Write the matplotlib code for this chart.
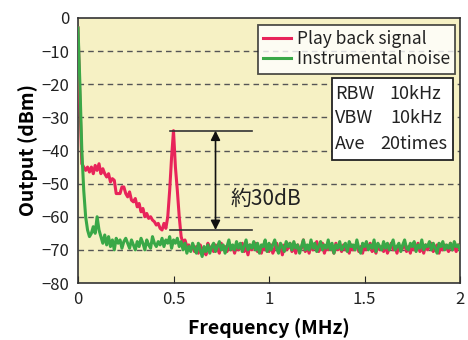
import numpy as np
import matplotlib
matplotlib.use("Agg")
import matplotlib.pyplot as plt
from matplotlib.patches import Rectangle

plt.rcParams['font.family'] = ['Noto Sans CJK JP', 'DejaVu Sans']

# ---- data ----
sig_head = [-3, -25, -44, -45, -46, -45, -46.5, -45, -47, -44.5,
            -46, -44, -47, -45.5, -47, -48, -47, -49.5, -48.5, -49,
            -53, -53, -53, -51, -51, -53, -54, -52.5, -55, -55.5,
            -54.5, -57, -56, -58.5, -57.5, -60, -59, -60.5, -60, -61,
            -61.5, -62.5, -62, -63.5, -64, -62, -63.5, -60, -52, -42,
            -34, -45, -52, -60, -66, -68, -67, -69, -68.5, -70, -69]
sig_tail = [-70.5, -69, -71, -68.5, -70, -69.5, -71.5, -68, -70, -69,
            -70.5, -68.5, -69.5, -71, -68, -70, -69, -70.5, -68.5, -70,
            -69, -71, -68.5, -70, -69.5, -68, -70.5, -69, -71.5, -68.5,
            -70, -69, -68, -70.5, -69.5, -71, -68.5, -70, -69, -70.5,
            -68.5, -71, -69.5, -68, -70, -69, -71.5, -68.5, -70, -69.5,
            -68, -70.5, -69, -71, -68.5, -70, -69.5, -67, -70.5, -69,
            -71, -68.5, -70, -69, -67.5, -70.5, -69.5, -68, -71, -69,
            -70, -68.5, -69.5, -71, -68, -70, -69, -70.5, -68.5, -70,
            -69, -71, -68.5, -70, -69.5, -68, -70.5, -69, -71, -68.5,
            -70, -69, -68, -70.5, -69.5, -71, -68.5, -70, -69, -70.5,
            -68.5, -71, -69.5, -68, -70, -69, -71, -68.5, -70, -69.5,
            -68, -70.5, -69, -71, -68.5, -70, -69.5, -68, -70.5, -69,
            -71, -68.5, -70, -69, -68, -70.5, -69.5, -68.5, -71, -69,
            -70, -68.5, -69.5, -70.5, -68, -70, -69, -70.5, -68.5, -69.5]
signal = sig_head + sig_tail

noise = [-3, -20, -40, -52, -60, -64, -66, -65, -63, -65,
         -60, -64, -66, -68, -65.5, -68.5, -66, -69, -67, -70,
         -66.5, -68, -67, -69.5, -67.5, -66.5, -68, -69.5, -67, -68.5,
         -70, -67.5, -69, -66.5, -68, -70, -67, -68.5, -69.5, -66,
         -68, -69, -67.5, -68.5, -66.5, -69, -67, -68, -66, -69.5,
         -67, -68, -66.5, -69, -67.5, -70, -68, -71, -69, -70.5,
         -68, -69.5, -71, -68, -70, -72, -69, -70.5, -68.5, -71,
         -69, -68, -70.5, -69, -67.5, -70, -68.5, -71, -69, -67,
         -70, -68.5, -70, -67.5, -69.5, -68, -70.5, -69, -67, -70,
         -68.5, -69.5, -67.5, -70, -68, -71, -68.5, -69, -67, -70.5,
         -68, -70, -68.5, -67, -69.5, -71, -68, -69, -70.5, -67.5,
         -69, -68, -70, -67.5, -69.5, -68.5, -71, -69, -67, -70,
         -68.5, -70, -67, -69.5, -68, -70.5, -69, -67.5, -70, -68.5,
         -69.5, -67, -70, -68, -71, -68.5, -69.5, -67.5, -70, -69,
         -68, -70.5, -67.5, -69, -68.5, -70, -67, -69.5, -71, -68,
         -69, -67.5, -70, -68.5, -69.5, -67, -70.5, -68, -69, -70,
         -67.5, -69.5, -68, -70, -68.5, -67, -70, -69, -68, -70.5,
         -68.5, -67, -69.5, -70, -68, -69, -67.5, -70.5, -68.5, -69.5,
         -67, -70, -68.5, -69, -67.5, -70, -68, -69.5, -71, -68,
         -69, -67.5, -70, -68.5, -69.5, -68, -70, -67.5, -69, -68.5,
         -70]
freq = [i * 0.01 for i in range(201)]

x_ticks = [0, 0.5, 1, 1.5, 2]
x_tick_labels = ["0", "0.5", "1", "1.5", "2"]
y_ticks = [0, -10, -20, -30, -40, -50, -60, -70, -80]

# ---- figure ----
fig = plt.figure(figsize=(4.68, 3.4), dpi=100)
ax = fig.add_axes([78/468, (340-283)/340, (460-78)/468, (283-18)/340])
ax.set_facecolor('#F6F1C4')

red = '#E8245A'
green = '#3AA847'
ax.plot(freq[:len(signal)], signal, color=red, lw=2.2, label='Play back signal', zorder=3)
ax.plot(freq[:len(noise)], noise, color=green, lw=2.2, label='Instrumental noise', zorder=4)

ax.set_xlim(0, 2)
ax.set_ylim(-80, 0)
ax.set_xticks(x_ticks)
ax.set_xticklabels(x_tick_labels)
ax.set_yticks(y_ticks)
ax.tick_params(axis='x', direction='in', length=5, labelsize=12, colors='#222222', pad=6)
ax.tick_params(axis='y', length=0, labelsize=12, colors='#222222', pad=6)
for v in y_ticks[1:-1]:
    ax.axhline(v, color='#555555', lw=1.0, ls=(0, (4, 3)), zorder=1)
for s in ax.spines.values():
    s.set_color('#333333')
    s.set_linewidth(1.2)

ax.set_xlabel('Frequency (MHz)', fontsize=14, fontweight='bold', labelpad=7)
ax.set_ylabel('Output (dBm)', fontsize=14, fontweight='bold', labelpad=3)

# annotation
ax.plot([0.48, 0.91], [-34, -34], color='#333333', lw=1.2, zorder=5)
ax.plot([0.48, 0.91], [-64, -64], color='#333333', lw=1.2, zorder=5)
ax.annotate('', xy=(0.72, -34), xytext=(0.72, -64),
            arrowprops=dict(arrowstyle='<|-|>', color='#111111', lw=1.2,
                            mutation_scale=14, shrinkA=0, shrinkB=0), zorder=6)
ax.text(0.80, -54.5, '約30dB', fontsize=15, va='center', ha='left', color='#222222')

leg = ax.legend(loc='upper right', bbox_to_anchor=(1 - 5/382, 1 - 7/265),
                fontsize=12.5, frameon=True, fancybox=False, handlelength=1.6,
                borderpad=0.3, labelspacing=0.12, handletextpad=0.35, borderaxespad=0)
leg.get_frame().set_edgecolor('#222222')
leg.get_frame().set_linewidth(1.3)
for t in leg.get_texts():
    t.set_color('#222222')

# info box
def ax_xy(px, py):
    return ((px - 78) / 382, (283 - py) / 265)

x0, y0 = ax_xy(332, 160)
x1, y1 = ax_xy(453, 78)
ax.add_patch(Rectangle((x0, y0), x1 - x0, y1 - y0, transform=ax.transAxes,
                       facecolor='white', edgecolor='#222222', lw=1.3, zorder=7))
info_labels = ['RBW', 'VBW', 'Ave']
info_values = ['10kHz', '10kHz', '20times']
info_value_x = [389, 390, 380]
info_y = [94, 118, 144]
for lab, val, vx, py in zip(info_labels, info_values, info_value_x, info_y):
    ax.text(*ax_xy(335, py), lab, transform=ax.transAxes, fontsize=13,
            va='center', ha='left', color='#222222', zorder=8)
    ax.text(*ax_xy(vx, py), val, transform=ax.transAxes, fontsize=13,
            va='center', ha='left', color='#222222', zorder=8)

fig.savefig('out.png', dpi=100)
